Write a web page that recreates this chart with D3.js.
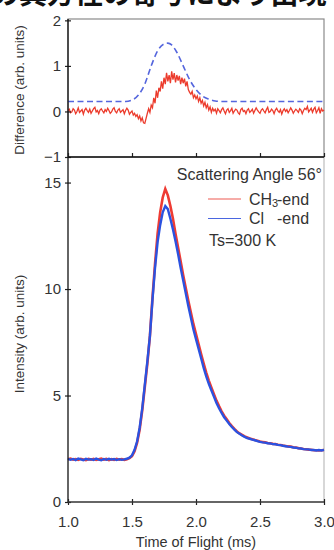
<!DOCTYPE html>
<html lang="ja">
<head>
<meta charset="UTF-8">
<title>Scattering TOF</title>
<script src="https://d3js.org/d3.v7.min.js"></script>
<style>
  body { margin: 0; background: #fff; }
  svg { display: block; }
  .tick text { font-family: "Liberation Sans", Arial, sans-serif; fill: #333; }
</style>
</head>
<body>
<div id="chart"></div>
<script>
// time axis ticks
var xTicks = [1.0, 1.5, 2.0, 2.5, 3.0];
var diffTicks = [-1, 0, 1, 2];
var intTicks = [0, 5, 10, 15];

// difference signal, sampled every 0.01 ms from 1.00 ms
var diffValues = [
  0.02,0.05,-0.03,-0.01,0.06,0.03,-0.05,0.00,0.08,-0.02,
  0.01,0.04,-0.06,0.03,0.07,0.02,-0.02,0.05,-0.04,0.01,
  0.06,0.09,-0.01,0.02,-0.05,0.03,0.06,0.01,-0.03,0.04,
  0.00,0.07,0.02,-0.04,-0.01,0.05,0.08,0.00,-0.03,0.03,
  0.06,-0.02,0.01,0.04,-0.05,0.02,0.07,0.03,-0.06,-0.02,
  0.01,-0.08,-0.04,-0.11,-0.07,-0.16,-0.10,-0.21,-0.14,-0.25,
  -0.26,-0.15,-0.04,0.06,-0.02,0.14,0.08,0.30,0.18,0.46,
  0.30,0.52,0.44,0.66,0.50,0.74,0.60,0.85,0.66,0.80,
  0.62,0.88,0.70,0.84,0.64,0.80,0.68,0.78,0.60,0.74,
  0.62,0.72,0.55,0.66,0.48,0.42,0.38,0.44,0.30,0.36,
  0.28,0.34,0.22,0.30,0.18,0.24,0.12,0.20,0.08,0.15,
  0.03,0.10,-0.02,0.07,0.01,0.05,-0.04,0.06,0.02,-0.03,
  0.04,0.08,0.01,-0.05,0.03,0.06,-0.02,0.02,0.07,-0.04,
  0.01,0.05,0.03,-0.03,-0.06,0.04,0.07,0.00,0.02,-0.05,
  0.03,0.06,-0.02,0.01,0.05,-0.04,0.02,0.08,0.03,-0.01,
  -0.04,0.03,0.06,0.01,-0.03,0.04,0.09,-0.02,0.00,0.05,
  0.02,-0.05,0.03,0.07,0.01,-0.02,0.04,-0.06,0.02,0.06,
  0.00,0.04,-0.03,0.02,0.08,0.03,-0.04,0.01,0.05,0.02,
  -0.02,0.06,0.03,-0.05,0.02,0.07,0.04,0.11,-0.01,0.03,
  0.07,-0.02,0.05,0.09,-0.03,0.02,0.08,-0.04,0.06,0.01,
  0.03
];

// dashed reference profile in the top panel
var guideTimes  = [1.0, 1.45, 1.50, 1.55, 1.60, 1.65, 1.70, 1.75, 1.78, 1.81, 1.85, 1.90, 1.95, 2.00, 2.05, 2.10, 2.15, 2.20, 3.0];
var guideValues = [0.22, 0.22, 0.25, 0.36, 0.60, 1.00, 1.33, 1.48, 1.50, 1.46, 1.30, 1.00, 0.70, 0.48, 0.34, 0.27, 0.23, 0.22, 0.22];

// TOF intensities, sampled every 0.02 ms from 1.00 ms
var clEnd = [
  2.03,1.98,2.02,1.97,2.04,2.00,1.96,2.03,1.99,2.01,
  1.97,2.04,1.99,1.96,2.02,1.98,2.03,1.99,2.02,1.97,
  2.01,1.98,2.00,2.03,2.08,
  2.19, 2.45, 2.85, 3.5, 4.4,
  5.5, 6.6, 7.8, 9.5, 11.0,
  12.2, 13.0, 13.6, 13.9, 13.75,
  13.3, 12.8, 12.25, 11.65, 11.0,
  10.4, 9.8, 9.2, 8.65, 8.1,
  7.65, 7.2, 6.75, 6.3, 5.9,
  5.55, 5.25, 4.95, 4.65, 4.4,
  4.18, 3.98, 3.82, 3.66, 3.52,
  3.40, 3.28, 3.20, 3.12, 3.06,
  3.00, 2.97, 2.93, 2.90, 2.86,
  2.82, 2.80, 2.79, 2.76, 2.75,
  2.72, 2.71, 2.68, 2.67, 2.64,
  2.62, 2.60, 2.59, 2.56, 2.55,
  2.52, 2.51, 2.48, 2.47, 2.47,
  2.44, 2.44, 2.42, 2.44, 2.42,
  2.45
];
var ch3End = [
  2.01,2.04,1.99,2.02,1.98,2.03,2.00,1.97,2.02,1.99,
  2.03,1.98,2.01,2.04,1.99,2.02,1.97,2.01,1.98,2.03,
  1.99,2.02,1.98,2.01,2.06,
  2.15, 2.38, 2.78, 3.4, 4.3,
  5.4, 6.5, 7.8, 9.6, 11.2,
  12.6, 13.6, 14.3, 14.7, 14.4,
  13.9, 13.3, 12.6, 11.95, 11.3,
  10.65, 10.05, 9.45, 8.9, 8.35,
  7.88, 7.42, 6.95, 6.5, 6.08,
  5.70, 5.38, 5.06, 4.76, 4.50,
  4.26, 4.05, 3.88, 3.71, 3.56,
  3.43, 3.31, 3.22, 3.15, 3.08,
  3.03, 2.98, 2.95, 2.91, 2.88,
  2.84, 2.82, 2.80, 2.77, 2.76,
  2.73, 2.72, 2.69, 2.68, 2.65,
  2.63, 2.61, 2.60, 2.57, 2.56,
  2.53, 2.51, 2.49, 2.48, 2.46,
  2.45, 2.43, 2.43, 2.42, 2.43,
  2.44
];

var W = 334, H = 550;
var left = 68, right = 324;
var topY = 19, midY = 157, botY = 502;

var svg = d3.select("#chart").append("svg")
  .attr("width", W).attr("height", H);

// heading cut off by the crop
svg.append("text")
  .attr("x", -9).attr("y", 4)
  .style("font-family", "Noto Sans CJK JP")
  .style("font-size", "28px")
  .style("font-weight", "bold")
  .style("fill", "#111")
  .text("の異方性の寄与により出現");

var x = d3.scaleLinear().domain([1, 3]).range([left, right]);
var yTop = d3.scaleLinear().domain([-1, 2.03]).range([midY, topY]);
var yBot = d3.scaleLinear().domain([0, 16.2]).range([botY, midY]);

// frames
svg.append("rect")
  .attr("x", left).attr("y", topY)
  .attr("width", right - left).attr("height", midY - topY)
  .style("fill", "none").style("stroke", "#8a8a8a").style("stroke-width", 1.2);
svg.append("line")
  .attr("x1", right).attr("x2", right).attr("y1", midY).attr("y2", botY)
  .style("stroke", "#bdbdbd").style("stroke-width", 1.2);

// curves
var lineDiff = d3.line()
  .x(function(d, i) { return x(1 + i * 0.01); })
  .y(function(d) { return yTop(d); });
var lineGuide = d3.line()
  .x(function(d, i) { return x(guideTimes[i]); })
  .y(function(d) { return yTop(d); })
  .curve(d3.curveMonotoneX);
var lineTof = d3.line()
  .x(function(d, i) { return x(1 + i * 0.02); })
  .y(function(d) { return yBot(d); });

svg.append("path").datum(guideValues)
  .attr("d", lineGuide)
  .style("fill", "none").style("stroke", "#5566dd")
  .style("stroke-width", 1.6).style("stroke-dasharray", "6,3.5");
svg.append("path").datum(diffValues)
  .attr("d", lineDiff)
  .style("fill", "none").style("stroke", "#ec3b2c").style("stroke-width", 1.3);

svg.append("path").datum(ch3End)
  .attr("d", lineTof)
  .style("fill", "none").style("stroke", "#ee3b33").style("stroke-width", 2.6);
svg.append("path").datum(clEnd)
  .attr("d", lineTof)
  .style("fill", "none").style("stroke", "#2b52e0").style("stroke-width", 2.4);

// axes
var gTopY = svg.append("g")
  .attr("transform", "translate(" + left + ",0)")
  .call(d3.axisLeft(yTop).tickValues(diffTicks).tickSize(3).tickPadding(4).tickFormat(d3.format("d")));
var gBotY = svg.append("g")
  .attr("transform", "translate(" + left + ",0)")
  .call(d3.axisLeft(yBot).tickValues(intTicks).tickSize(3).tickPadding(4).tickFormat(d3.format("d")));
[gTopY, gBotY].forEach(function(g) {
  g.select(".domain").remove();
  g.selectAll(".tick line").attr("x1", 3).style("stroke", "#222").style("stroke-width", 1.2);
  g.selectAll(".tick text").style("font-size", "15px");
});
svg.append("line")
  .attr("x1", left).attr("x2", left).attr("y1", topY).attr("y2", botY)
  .style("stroke", "#111").style("stroke-width", 1.3);

var gMidX = svg.append("g")
  .attr("transform", "translate(0," + midY + ")")
  .call(d3.axisBottom(x).tickValues(xTicks).tickSize(-4).tickFormat(""));
gMidX.select(".domain").remove();
gMidX.selectAll(".tick line").style("stroke", "#222").style("stroke-width", 1.2);
svg.append("line")
  .attr("x1", left).attr("x2", right).attr("y1", midY).attr("y2", midY)
  .style("stroke", "#111").style("stroke-width", 1.6);

var gBotX = svg.append("g")
  .attr("transform", "translate(0," + botY + ")")
  .call(d3.axisBottom(x).tickValues(xTicks).tickSize(3).tickPadding(11).tickFormat(d3.format(".1f")));
gBotX.select(".domain").remove();
gBotX.selectAll(".tick line").attr("y1", -3).style("stroke", "#222").style("stroke-width", 1.2);
gBotX.selectAll(".tick text").style("font-size", "15px");
svg.append("line")
  .attr("x1", left).attr("x2", right).attr("y1", botY).attr("y2", botY)
  .style("stroke", "#333").style("stroke-width", 1.3);

// axis titles
var labelFont = "'Liberation Sans', Arial, sans-serif";
svg.append("text")
  .attr("transform", "translate(24,90) rotate(-90)")
  .attr("text-anchor", "middle")
  .style("font-family", labelFont).style("font-size", "13.5px").style("fill", "#333")
  .text("Difference (arb. units)");
svg.append("text")
  .attr("transform", "translate(23.5,334) rotate(-90)")
  .attr("text-anchor", "middle")
  .style("font-family", labelFont).style("font-size", "13.5px").style("fill", "#333")
  .text("Intensity (arb. units)");
svg.append("text")
  .attr("x", x(2)).attr("y", 547)
  .attr("text-anchor", "middle")
  .style("font-family", labelFont).style("font-size", "14.5px").style("fill", "#333")
  .text("Time of Flight (ms)");

// legend
var leg = svg.append("g")
  .style("font-family", labelFont).style("font-size", "16px").style("fill", "#333");
leg.append("text").attr("x", 322).attr("y", 180).attr("text-anchor", "end")
  .text("Scattering Angle 56°");
leg.append("line").attr("x1", 208).attr("x2", 241).attr("y1", 199).attr("y2", 199)
  .style("stroke", "#ee5a52").style("stroke-width", 1.2);
leg.append("line").attr("x1", 208).attr("x2", 241).attr("y1", 218.5).attr("y2", 218.5)
  .style("stroke", "#4a66e0").style("stroke-width", 1.2);
var t1 = leg.append("text").attr("x", 249).attr("y", 205);
t1.append("tspan").text("CH");
t1.append("tspan").attr("dy", 2).style("font-size", "11px").text("3");
t1.append("tspan").attr("x", 277).attr("dy", -2).text("-end");
var t2 = leg.append("text").attr("x", 249).attr("y", 223.5);
t2.append("tspan").text("Cl");
t2.append("tspan").attr("x", 277).text("-end");
leg.append("text").attr("x", 209).attr("y", 246).text("Ts=300 K");
</script>
</body>
</html>
